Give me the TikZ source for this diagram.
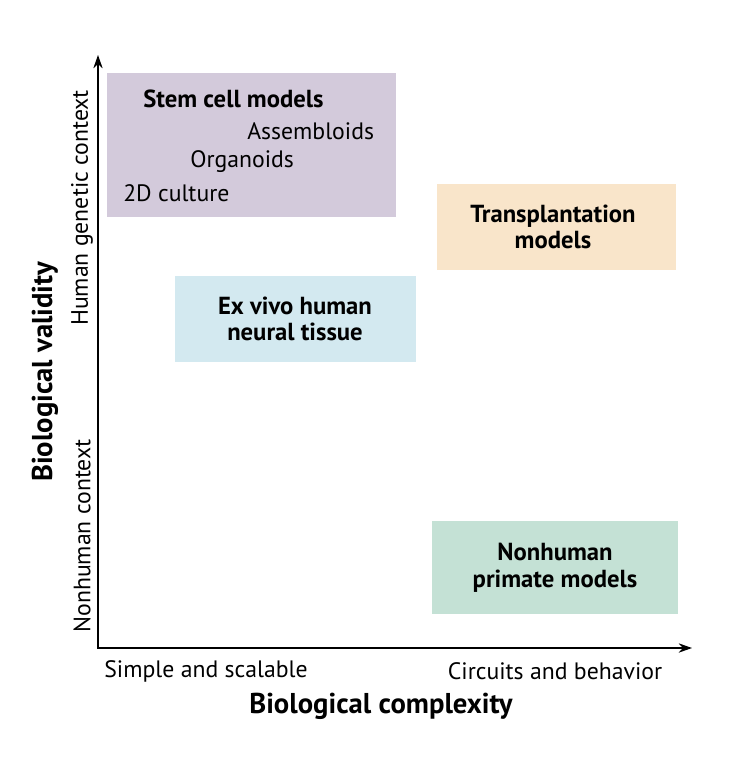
\documentclass[tikz,border=0pt]{standalone}
\usepackage{fontspec}
\setmainfont{PT Sans}
\usetikzlibrary{arrows.meta}
\usetikzlibrary{positioning}

\definecolor{stemfill}{HTML}{D3CADB}
\definecolor{transfill}{HTML}{F9E5CA}
\definecolor{exvivofill}{HTML}{D3E9F0}
\definecolor{primatefill}{HTML}{C4E1D5}

\tikzset{
  lbl/.style={font=\fontsize{17.8}{20}\selectfont, inner sep=0pt},
  boldlbl/.style={font=\fontsize{18.5}{20}\selectfont\bfseries, inner sep=0pt, align=center},
  axislbl/.style={font=\fontsize{21.5}{24}\selectfont\bfseries, inner sep=0pt},
}

\begin{document}
\begin{tikzpicture}[x=0.75pt, y=-0.75pt]

\useasboundingbox (0,0) rectangle (744,766);

% model boxes
\fill[stemfill] (107,73) rectangle (396,217);
\fill[transfill] (437,184) rectangle (676,270);
\fill[exvivofill] (175,276) rectangle (416,362);
\fill[primatefill] (432,521) rectangle (678,614);

% axes
\coordinate (ytip) at (98,55);
\coordinate (xtip) at (692,648);
\draw[line width=1.2pt, {Stealth[length=10pt,width=7pt]}-{Stealth[length=10pt,width=7pt]}] (ytip) |- (xtip);

% box texts
\node[boldlbl, anchor=west] (stem) at (143,99) {Stem cell models};
\node[lbl, anchor=west] (assem) at (247,131) {Assembloids};
\node[lbl, anchor=west] (organ) at (190,162) {Organoids};
\node[lbl, anchor=west] (culture) at (123,193) {2D culture};
\node[boldlbl] (trans) at (553,227) {Transplantation\\models};
\node[boldlbl] (exvivo) at (295,319) {Ex vivo human\\neural tissue};
\node[boldlbl] (primate) at (555,568) {Nonhuman\\primate models};

% axis labels
\node[lbl] (simple) at (206,671) {Simple and scalable};
\node[lbl] (circuits) at (555,671) {Circuits and behavior};
\node[axislbl] (complexity) at (381,706) {Biological complexity};
\node[axislbl, rotate=90] (validity) at (45,372) {Biological validity};
\node[lbl, rotate=90] (human) at (82,208) {Human genetic context};
\node[lbl, rotate=90] (nonhuman) at (82,536) {Nonhuman context};

\end{tikzpicture}
\end{document}
